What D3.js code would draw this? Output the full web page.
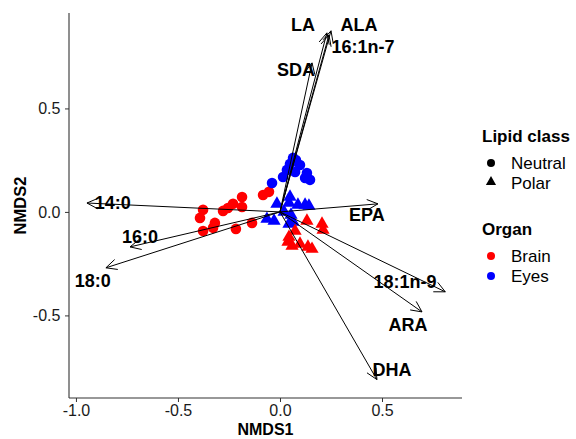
<!DOCTYPE html>
<html>
<head>
<meta charset="utf-8">
<script src="https://cdn.jsdelivr.net/npm/d3@7"></script>
<style>
  body { margin: 0; background: #fff; }
  text { font-family: "Liberation Sans", Arial, sans-serif; }
</style>
</head>
<body>
<div id="chart"></div>
<script>
// NMDS site scores (NMDS1, NMDS2)
var brainNeutralX = [-0.377, -0.392, -0.377, -0.319, -0.328, -0.279, -0.255, -0.230, -0.186, -0.186, -0.216, -0.137, -0.083, -0.054];
var brainNeutralY = [0.010, -0.029, -0.092, -0.053, -0.077, 0.005, 0.019, 0.039, 0.072, 0.024, -0.082, -0.053, 0.082, 0.097];
var eyesNeutralX = [0.064, 0.049, 0.098, 0.034, 0.074, 0.015, 0.132, 0.147, 0.123, -0.039, 0.078];
var eyesNeutralY = [0.261, 0.232, 0.227, 0.203, 0.193, 0.169, 0.188, 0.155, 0.164, 0.140, 0.251];
var eyesPolarX = [-0.015, 0.049, 0.044, 0.088, 0.123, 0.142, -0.064, -0.029, 0.020, 0.054, 0.064, 0.044];
var eyesPolarY = [0.034, 0.068, 0.039, 0.029, 0.029, 0.024, -0.039, -0.048, -0.005, -0.019, -0.053, -0.063];
var brainPolarX = [0.132, 0.206, 0.211, 0.044, 0.039, 0.059, 0.137, 0.157, 0.098, 0.074];
var brainPolarY = [-0.048, -0.063, -0.092, -0.126, -0.150, -0.169, -0.174, -0.184, -0.159, -0.097];

// fatty acid vectors (envfit) and where their labels sit
var faNames = ["14:0", "16:0", "18:0", "EPA", "18:1n-9", "ARA", "DHA", "LA", "ALA", "16:1n-7", "SDA"];
var faX = [-0.946, -0.735, -0.853, 0.48, 0.81, 0.696, 0.475, 0.23, 0.25, 0.24, 0.157];
var faY = [0.043, -0.169, -0.27, 0.039, -0.386, -0.483, -0.81, 0.865, 0.875, 0.855, 0.72];
var faLabelX = [-0.819, -0.686, -0.917, 0.426, 0.613, 0.627, 0.549, 0.113, 0.387, 0.407, 0.078];
var faLabelY = [0.043, -0.121, -0.333, -0.014, -0.338, -0.546, -0.763, 0.903, 0.903, 0.797, 0.686];

var xTicks = [-1.0, -0.5, 0.0, 0.5];
var yTicks = [-0.5, 0.0, 0.5];

var classNames = ["Neutral", "Polar"];
var organNames = ["Brain", "Eyes"];
var organColors = ["#ff0000", "#0000ff"];

var width = 576, height = 439;
var panel = {left: 69, right: 462, top: 13, bottom: 398};

var svg = d3.select("#chart").append("svg")
  .attr("width", width)
  .attr("height", height);

var x = d3.scaleLinear().domain([-1.034, 0.892]).range([panel.left, panel.right]);
var y = d3.scaleLinear().domain([-0.899, 0.961]).range([panel.bottom, panel.top]);

// plain hyphen for negatives, like R does
var fmt = d => d3.format(".1f")(d).replace("\u2212", "-");

// axes (classic theme: only left and bottom lines)
var xAxis = svg.append("g")
  .attr("transform", "translate(0," + panel.bottom + ")")
  .call(d3.axisBottom(x).tickValues(xTicks).tickFormat(fmt).tickSizeOuter(0).tickSize(4));
var yAxis = svg.append("g")
  .attr("transform", "translate(" + panel.left + ",0)")
  .call(d3.axisLeft(y).tickValues(yTicks).tickFormat(fmt).tickSizeOuter(0).tickSize(4));

[xAxis, yAxis].forEach(function(a) {
  a.select(".domain").attr("stroke", "#333").attr("stroke-width", 1.1);
  a.selectAll(".tick line").attr("stroke", "#333");
  a.selectAll(".tick text")
    .attr("fill", "#1a1a1a")
    .style("font-size", "16px")
    .style("font-family", "Liberation Sans, Arial, sans-serif");
});
xAxis.selectAll(".tick text").attr("y", 7).attr("dy", "0.71em");
yAxis.selectAll(".tick text").attr("dx", "-0.1em");
// make sure the lines span the whole panel
xAxis.select(".domain").attr("d", "M" + panel.left + ",0H" + panel.right);
yAxis.select(".domain").attr("d", "M0," + panel.top + "V" + panel.bottom);

svg.append("text")
  .attr("x", (panel.left + panel.right) / 2)
  .attr("y", 435)
  .attr("text-anchor", "middle")
  .style("font-size", "16px")
  .style("font-weight", "bold")
  .text("NMDS1");

svg.append("text")
  .attr("transform", "translate(26," + (panel.top + panel.bottom) / 2 + ") rotate(-90)")
  .attr("text-anchor", "middle")
  .style("font-size", "16.5px")
  .style("font-weight", "bold")
  .text("NMDS2");

// points
function zipPts(xs, ys) { return xs.map(function(v, i) { return {x: v, y: ys[i]}; }); }

var circleR = 5.3;
var triangle = d3.symbol().type(d3.symbolTriangle).size(75);

var groups = [
  {pts: zipPts(brainNeutralX, brainNeutralY), shape: "circle", color: organColors[0]},
  {pts: zipPts(eyesNeutralX, eyesNeutralY), shape: "circle", color: organColors[1]},
  {pts: zipPts(eyesPolarX, eyesPolarY), shape: "triangle", color: organColors[1]},
  {pts: zipPts(brainPolarX, brainPolarY), shape: "triangle", color: organColors[0]}
];

groups.forEach(function(gr) {
  var sel = svg.append("g").selectAll("path").data(gr.pts).enter();
  if (gr.shape == "circle") {
    sel.append("circle")
      .attr("cx", d => x(d.x))
      .attr("cy", d => y(d.y))
      .attr("r", circleR)
      .attr("fill", gr.color);
  } else {
    sel.append("path")
      .attr("d", triangle)
      .attr("transform", d => "translate(" + x(d.x) + "," + (y(d.y) - 1) + ")")
      .attr("fill", gr.color);
  }
});

// vectors with open arrowheads
var headLen = 12, headAng = Math.PI / 7;
var vec = svg.append("g");
faNames.forEach(function(n, i) {
  var x0 = x(0), y0 = y(0), x1 = x(faX[i]), y1 = y(faY[i]);
  var ang = Math.atan2(y1 - y0, x1 - x0);
  vec.append("line")
    .attr("x1", x0).attr("y1", y0).attr("x2", x1).attr("y2", y1)
    .attr("stroke", "#000").attr("stroke-width", 1);
  var p = "M" + (x1 - headLen * Math.cos(ang - headAng)) + "," + (y1 - headLen * Math.sin(ang - headAng)) +
          "L" + x1 + "," + y1 +
          "L" + (x1 - headLen * Math.cos(ang + headAng)) + "," + (y1 - headLen * Math.sin(ang + headAng));
  vec.append("path").attr("d", p).attr("fill", "none").attr("stroke", "#000").attr("stroke-width", 1);
});

svg.append("g").selectAll("text")
  .data(faNames)
  .enter().append("text")
    .attr("x", (d, i) => x(faLabelX[i]))
    .attr("y", (d, i) => y(faLabelY[i]))
    .attr("dy", "0.36em")
    .attr("text-anchor", "middle")
    .style("font-size", "18px")
    .style("font-weight", "bold")
    .text(d => d);

// legend
var leg = svg.append("g");
leg.append("text").attr("x", 482).attr("y", 142)
  .style("font-size", "17px").style("font-weight", "bold").text("Lipid class");
classNames.forEach(function(c, i) {
  var cy = 163 + i * 20;
  if (i == 0) leg.append("circle").attr("cx", 491).attr("cy", cy).attr("r", 4).attr("fill", "#000");
  else leg.append("path").attr("d", d3.symbol().type(d3.symbolTriangle).size(45))
    .attr("transform", "translate(491," + (cy - 1) + ")").attr("fill", "#000");
  leg.append("text").attr("x", 511).attr("y", cy).attr("dy", "0.36em")
    .style("font-size", "17px").text(c);
});
leg.append("text").attr("x", 482).attr("y", 235)
  .style("font-size", "17px").style("font-weight", "bold").text("Organ");
organNames.forEach(function(o, i) {
  var cy = 256 + i * 20;
  leg.append("circle").attr("cx", 491).attr("cy", cy).attr("r", 4).attr("fill", organColors[i]);
  leg.append("text").attr("x", 511).attr("y", cy).attr("dy", "0.36em")
    .style("font-size", "17px").text(o);
});
</script>
</body>
</html>
